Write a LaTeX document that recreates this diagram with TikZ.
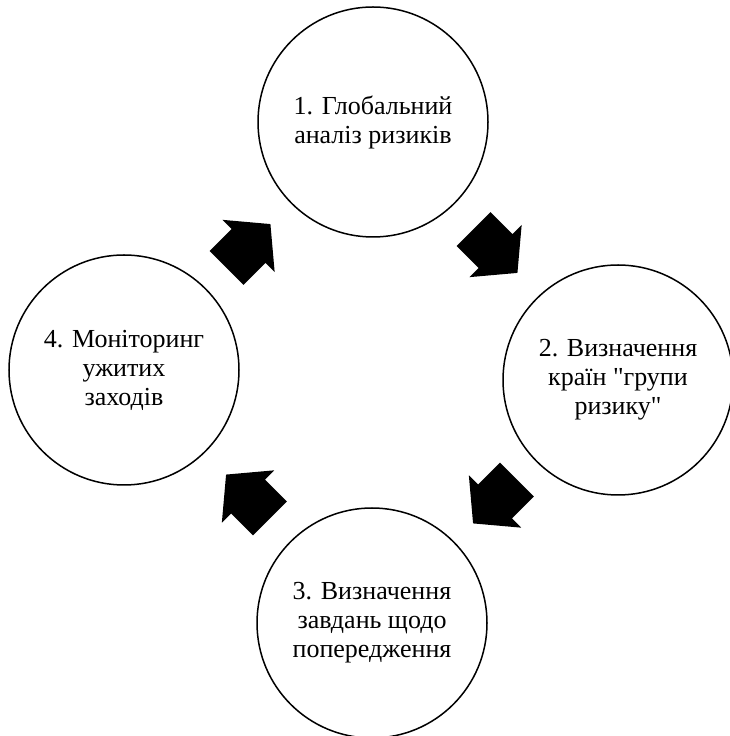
\documentclass[tikz,border=0pt]{standalone}
\usepackage{fontspec}
\setmainfont{Liberation Serif}[Ligatures=TeXOff]
\usetikzlibrary{calc}
\tikzset{
  stage/.style={circle, draw=black, line width=1.5pt, minimum size=230pt, inner sep=0pt,
    align=center, font=\fontsize{26}{29}\selectfont},
  blockarrow/.style={fill=black}
}
\newcommand\blockarrowfromto[3]{%
  \coordinate (mid) at ($(#1)!0.5!(#2)$);
  \begin{scope}[shift={(mid)}, rotate=#3]
    \fill[blockarrow] (-31,-24) -- (0,-24) -- (0,-37) -- (31,0) -- (0,37) -- (0,24) -- (-31,24) -- cycle;
  \end{scope}}
\begin{document}
\begin{tikzpicture}[x=1pt,y=1pt]
\useasboundingbox[fill=white] (0,0) rectangle (730,736);
\node[stage] (s1) at (373,614) {1. Глобальний\\аналіз ризиків};
\node[stage] (s2) at (618,356) {2. Визначення\\країн "групи\\ризику"};
\node[stage] (s3) at (372,113) {3. Визначення\\завдань щодо\\попередження};
\node[stage] (s4) at (124,366) {4. Моніторинг\\ужитих\\заходів};
\blockarrowfromto{s1}{s2}{-45}
\blockarrowfromto{s2}{s3}{-135}
\blockarrowfromto{s3}{s4}{135}
\blockarrowfromto{s4}{s1}{45}
\end{tikzpicture}
\end{document}
